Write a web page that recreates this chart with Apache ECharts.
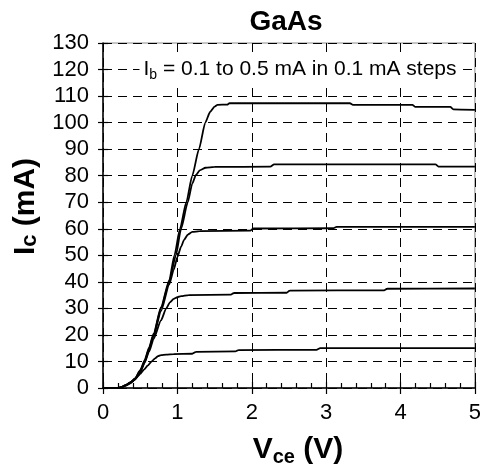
<!DOCTYPE html>
<html>
<head>
<meta charset="utf-8">
<script src="https://cdn.jsdelivr.net/npm/echarts@6/dist/echarts.min.js"></script>
<style>
html,body{margin:0;padding:0;background:#fff;}
#chart{width:484px;height:472px;}
</style>
</head>
<body>
<div id="chart"></div>
<script>
// ---- data ----
const chartTitle = 'GaAs';
const xTicks = [0, 1, 2, 3, 4, 5];
const yTicks = [0, 10, 20, 30, 40, 50, 60, 70, 80, 90, 100, 110, 120, 130];
const seriesNames = ['Ib = 0.1 mA', 'Ib = 0.2 mA', 'Ib = 0.3 mA', 'Ib = 0.4 mA', 'Ib = 0.5 mA'];

const vce01 = [0, 0.2, 0.25, 0.3, 0.35, 0.4, 0.45, 0.5, 0.55, 0.6, 0.65, 0.7, 0.74, 0.78, 0.85, 0.95, 1.2, 1.25, 1.78, 1.82, 2.87, 2.92, 5];
const ic01  = [0, 0, 0.3, 0.8, 1.5, 2.6, 3.9, 5.3, 6.9, 8.4, 9.9, 11.2, 12.0, 12.4, 12.6, 12.8, 12.9, 13.6, 13.8, 14.3, 14.4, 15.0, 15.0];

const vce02 = [0, 0.2, 0.25, 0.3, 0.37, 0.43, 0.5, 0.56, 0.62, 0.68, 0.78, 0.85, 0.9, 0.95, 1.0, 1.05, 1.15, 1.72, 1.76, 2.47, 2.51, 3.78, 3.82, 5];
const ic02  = [0, 0, 0.3, 0.9, 1.9, 3.2, 5.9, 9.5, 13.8, 18.5, 25.5, 30, 32.3, 33.6, 34.2, 34.6, 35.0, 35.2, 35.8, 35.9, 36.7, 36.8, 37.4, 37.5];

const vce03 = [0, 0.2, 0.25, 0.3, 0.37, 0.43, 0.5, 0.56, 0.62, 0.68, 0.78, 0.89, 0.95, 1.0, 1.05, 1.09, 1.14, 1.2, 1.3, 1.98, 2.02, 3.1, 3.14, 5];
const ic03  = [0, 0, 0.3, 1.0, 2.0, 3.3, 6.2, 9.8, 14.5, 19.5, 29, 39, 44.5, 49.3, 53.3, 55.8, 57.8, 58.8, 59.1, 59.3, 60.1, 60.2, 60.7, 60.7];

const vce04 = [0, 0.2, 0.25, 0.3, 0.37, 0.43, 0.5, 0.56, 0.62, 0.68, 0.78, 0.89, 0.98, 1.05, 1.14, 1.2, 1.25, 1.3, 1.38, 1.5, 2.25, 2.3, 4.47, 4.51, 5];
const ic04  = [0, 0, 0.3, 1.0, 2.1, 3.4, 6.4, 10, 14.8, 20, 30, 40, 50, 60, 70, 77, 80.3, 82, 83, 83.3, 83.4, 84.3, 84.3, 83.4, 83.4];

const vce05 = [0, 0.2, 0.25, 0.3, 0.37, 0.43, 0.5, 0.56, 0.62, 0.68, 0.78, 0.89, 0.96, 1.035, 1.12, 1.2, 1.29, 1.375, 1.44, 1.5, 1.54, 1.67, 1.7, 3.32, 3.36, 4.16, 4.2, 4.67, 4.71, 5];
const ic05  = [0, 0, 0.35, 1.1, 2.2, 3.6, 6.7, 10.5, 15.3, 20.5, 30.5, 40.5, 50, 60, 70, 80, 90, 100, 104, 106, 106.7, 106.8, 107.3, 107.3, 106.7, 106.7, 105.9, 105.9, 105.0, 104.8];

const curves = [[vce01, ic01], [vce02, ic02], [vce03, ic03], [vce04, ic04], [vce05, ic05]];

// ---- chart ----
const FONT = "'Liberation Sans', Arial, sans-serif";
const chart = echarts.init(document.getElementById('chart'), null, {renderer: 'canvas'});

const xMin = xTicks[0], xMax = xTicks[xTicks.length - 1], xInt = xTicks[1] - xTicks[0];
const yMin = yTicks[0], yMax = yTicks[yTicks.length - 1], yInt = yTicks[1] - yTicks[0];

const dash = {color: '#000', width: 1, type: [9, 6]};

const option = {
  animation: false,
  backgroundColor: '#fff',
  grid: {left: 103, right: 6, top: 43, bottom: 81, show: true, borderColor: '#8c8c8c', borderWidth: 1, backgroundColor: '#fff'},
  graphic: [
    {type: 'text', x: 286, y: 22, z: 100,
     style: {text: chartTitle, font: 'bold 28px ' + FONT, fill: '#000', align: 'center', verticalAlign: 'middle'}},
    {type: 'text', x: 300, y: 69, z: 100,
     style: {text: 'I{b|b} = 0.1 to 0.5 mA in 0.1 mA steps', font: '21px ' + FONT, fill: '#000',
             align: 'center', verticalAlign: 'middle', backgroundColor: '#fff', padding: [2, 4, 2, 4],
             rich: {b: {font: '14px ' + FONT, fill: '#000', verticalAlign: 'bottom', padding: [13, 0, 0, 0]}}}}
  ],
  xAxis: [
    {type: 'value', min: xMin, max: xMax, interval: xInt, position: 'bottom',
     axisLine: {show: true, onZero: false, lineStyle: {color: '#000', width: 1.5}},
     axisTick: {show: true, inside: false, length: 6, lineStyle: {color: '#000', width: 1.2}},
     axisLabel: {color: '#000', fontSize: 22, fontFamily: FONT, margin: 14},
     splitLine: {show: true, lineStyle: dash},
     name: 'V{s|ce} (V)', nameLocation: 'middle', nameGap: 45,
     nameTextStyle: {color: '#000', fontSize: 30, fontWeight: 'bold', fontFamily: FONT, padding: [0, 0, 0, 18],
       rich: {s: {fontSize: 20, fontWeight: 'bold', fontFamily: FONT, color: '#000', verticalAlign: 'bottom', padding: [14, 0, 0, 0]}}}},
    {type: 'value', min: xMin, max: xMax, interval: xInt, position: 'bottom',
     axisLine: {show: false, onZero: false},
     axisTick: {show: true, inside: true, length: 6, lineStyle: {color: '#000', width: 1.2}},
     minorTick: {show: true, splitNumber: 5, length: 5, lineStyle: {color: '#000', width: 1.2}},
     axisLabel: {show: false}, splitLine: {show: false}}
  ],
  yAxis: [
    {type: 'value', min: yMin, max: yMax, interval: yInt, position: 'left',
     axisLine: {show: true, onZero: false, lineStyle: {color: '#000', width: 1.5}},
     axisTick: {show: true, inside: false, length: 5, lineStyle: {color: '#000', width: 1.2}},
     axisLabel: {color: '#000', fontSize: 22, fontFamily: FONT, margin: 14},
     splitLine: {show: true, lineStyle: dash},
     name: 'I{s|c} (mA)', nameLocation: 'middle', nameRotate: 90, nameGap: 62,
     nameTextStyle: {color: '#000', fontSize: 30, fontWeight: 'bold', fontFamily: FONT, padding: [0, 0, 0, 18],
       rich: {s: {fontSize: 22, fontWeight: 'bold', fontFamily: FONT, color: '#000', verticalAlign: 'bottom', padding: [8, 0, 0, 0]}}}},
    {type: 'value', min: yMin, max: yMax, interval: yInt, position: 'left',
     axisLine: {show: false, onZero: false},
     axisTick: {show: true, inside: true, length: 5, lineStyle: {color: '#000', width: 1.2}},
     axisLabel: {show: false}, splitLine: {show: false}}
  ],
  series: curves.map((c, i) => ({
    name: seriesNames[i], type: 'line', xAxisIndex: 0, yAxisIndex: 0,
    showSymbol: false, symbol: 'none', smooth: 0.2, smoothMonotone: 'x', z: 10,
    lineStyle: {color: '#000', width: 1.8},
    data: c[0].map((v, k) => [v, c[1][k]])
  }))
};
chart.setOption(option);
</script>
</body>
</html>
